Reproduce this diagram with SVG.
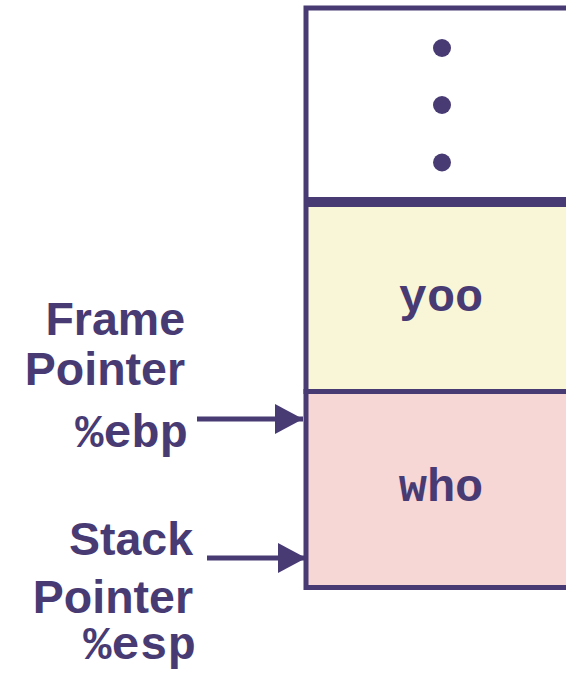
<svg xmlns="http://www.w3.org/2000/svg" width="566" height="676" viewBox="0 0 566 676">
<style>
.box{stroke:#483A73;stroke-width:5}
.lbl{font-family:"Liberation Sans",Arial,sans-serif;font-weight:bold;font-size:46.5px;fill:#483A73;text-anchor:end}
.reg{font-family:"Liberation Mono","Courier New",monospace;font-weight:bold;font-size:47px;fill:#483A73;text-anchor:end}
.var{font-family:"Liberation Mono","Courier New",monospace;font-weight:bold;font-size:47px;fill:#483A73;text-anchor:middle}
.conn{stroke:#483A73;stroke-width:5;fill:none}
</style>
<defs>
<marker id="ah" markerUnits="userSpaceOnUse" markerWidth="30" markerHeight="30" refX="28" refY="15" orient="auto">
<path d="M0,0 L28,15 L0,30 Z" fill="#483A73"/>
</marker>
</defs>
<rect width="566" height="676" fill="#FFFFFF"/>
<g id="node-dots">
<rect class="box" x="306" y="8" width="270" height="191.5" fill="#FFFFFF"/>
<circle cx="442" cy="48" r="9" fill="#483A73"/>
<circle cx="442" cy="105" r="9" fill="#483A73"/>
<circle cx="442" cy="162.5" r="9" fill="#483A73"/>
</g>
<g id="node-yoo">
<rect class="box" x="306" y="204.5" width="270" height="187" fill="#F9F6D8"/>
<text class="var" x="441" y="311">yoo</text>
</g>
<g id="node-who">
<rect class="box" x="306" y="391.5" width="270" height="196" fill="#F7D6D6"/>
<text class="var" x="441" y="501">who</text>
</g>
<g id="label-frame">
<text class="lbl" x="185" y="335">Frame</text>
<text class="lbl" x="185" y="385">Pointer</text>
<text class="reg" x="188" y="447">%ebp</text>
</g>
<g id="label-stack">
<text class="lbl" x="193" y="555">Stack</text>
<text class="lbl" x="193" y="613">Pointer</text>
<text class="reg" x="196" y="659">%esp</text>
</g>
<g id="connectors">
<line class="conn" x1="197" y1="419" x2="303" y2="419" marker-end="url(#ah)"/>
<line class="conn" x1="207" y1="558" x2="306" y2="558" marker-end="url(#ah)"/>
</g>
</svg>
